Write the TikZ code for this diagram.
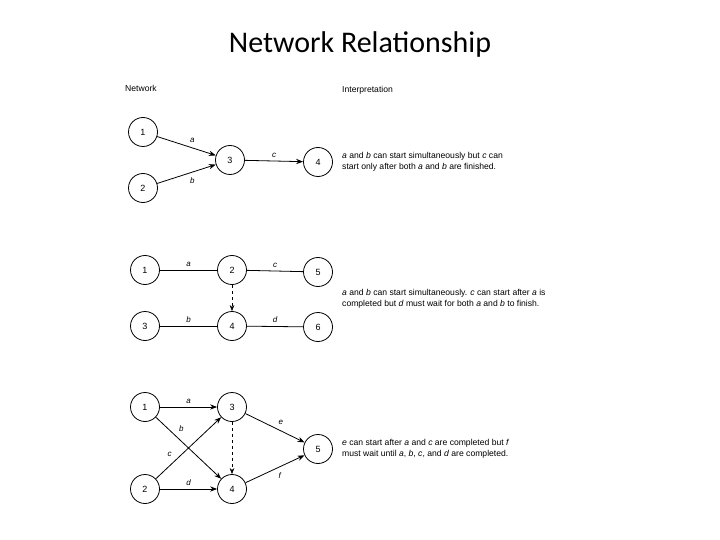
\documentclass[tikz,border=0pt]{standalone}
\usepackage{fontspec}
\setmainfont{Carlito}
\newfontfamily\ar{Liberation Sans}
\usetikzlibrary{arrows.meta}
\begin{document}
\begin{tikzpicture}[x=1pt,y=-1pt,
  ev/.style={circle,draw,thick,minimum size=29pt,inner sep=0pt,font=\ar\small},
  act/.style={thick,-{Stealth[length=7pt]}},
  plain/.style={thick},
  dum/.style={thin,dashed,-{Stealth[length=6pt]}},
  lb/.style={font=\ar\itshape\footnotesize},
  txt/.style={font=\ar\fontsize{8.6}{11}\selectfont,anchor=west,align=left,inner sep=0pt}]
\useasboundingbox (0,0) rectangle (720,540);
\node[font=\fontsize{30}{34}\selectfont] (title) at (360,45) {Network Relationship};
\node[txt] (h1) at (125,88) {Network};
\node[txt] (h2) at (342,90) {Interpretation};
% top
\node[ev] (a1) at (143,132) {1};
\node[ev] (a2) at (143,188) {2};
\node[ev] (a3) at (230,160) {3};
\node[ev] (a4) at (318,162) {4};
\draw[act] (a1) -- node[lb,above right]{a} (a3);
\draw[act] (a2) -- node[lb,below right]{b} (a3);
\draw[act] (a3) -- node[lb,above]{c} (a4);
\node[txt] (t1) at (342,162) {\textit{a} and \textit{b} can start simultaneously but \textit{c} can\\start only after both \textit{a} and \textit{b} are finished.};
% middle
\node[ev] (b1) at (145,270) {1};
\node[ev] (b2) at (232,270) {2};
\node[ev] (b5) at (318,272) {5};
\node[ev] (b3) at (145,326) {3};
\node[ev] (b4) at (232,326) {4};
\node[ev] (b6) at (318,327) {6};
\draw[plain] (b1) -- node[lb,above]{a} (b2);
\draw[plain] (b2) -- node[lb,above]{c} (b5);
\draw[plain] (b3) -- node[lb,above]{b} (b4);
\draw[plain] (b4) -- node[lb,above]{d} (b6);
\draw[dum] (b2) -- (b4);
\node[txt] (t2) at (342,299) {\textit{a} and \textit{b} can start simultaneously. \textit{c} can start after \textit{a} is\\completed but \textit{d} must wait for both \textit{a} and \textit{b} to finish.};
% bottom
\node[ev] (c1) at (145,407) {1};
\node[ev] (c3) at (232,407) {3};
\node[ev] (c2) at (145,489) {2};
\node[ev] (c4) at (232,489) {4};
\node[ev] (c5) at (318,449) {5};
\draw[act] (c1) -- node[lb,above]{a} (c3);
\draw[act] (c1) -- node[lb,pos=0.3,above right]{b} (c4);
\draw[act] (c2) -- node[lb,pos=0.3,above left]{c} (c3);
\draw[act] (c2) -- node[lb,above]{d} (c4);
\draw[dum] (c3) -- (c4);
\draw[act] (c3) -- node[lb,above right]{e} (c5);
\draw[act] (c4) -- node[lb,below right]{f} (c5);
\node[txt] (t3) at (342,449) {\textit{e} can start after \textit{a} and \textit{c} are completed but \textit{f}\\must wait until \textit{a}, \textit{b}, \textit{c}, and \textit{d} are completed.};
\end{tikzpicture}
\end{document}
